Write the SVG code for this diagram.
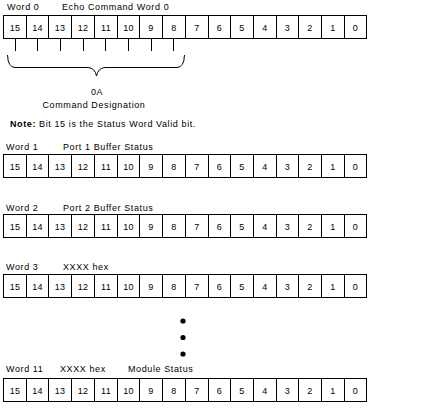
<svg xmlns="http://www.w3.org/2000/svg" width="437" height="410" viewBox="0 0 437 410">
<style>
text{font-family:"Liberation Sans",Arial,sans-serif;font-size:9px;fill:#000;letter-spacing:0.6px}
.n{text-anchor:middle;letter-spacing:0.3px}
.box{fill:#fff;stroke:#000;stroke-width:1}
.ln{stroke:#000;stroke-width:1;fill:none}
</style>
<defs>
<g id="reg">
<rect class="box" x="3.5" y="0.5" width="363" height="23"/>
<path class="ln" d="M26.5,0.5v23M48.5,0.5v23M71.5,0.5v23M94.5,0.5v23M117.5,0.5v23M139.5,0.5v23M162.5,0.5v23M185.5,0.5v23M208.5,0.5v23M230.5,0.5v23M253.5,0.5v23M276.5,0.5v23M298.5,0.5v23M321.5,0.5v23M344.5,0.5v23"/>
<text class="n" x="15" y="16">15</text>
<text class="n" x="37.5" y="16">14</text>
<text class="n" x="60" y="16">13</text>
<text class="n" x="83" y="16">12</text>
<text class="n" x="106" y="16">11</text>
<text class="n" x="128.5" y="16">10</text>
<text class="n" x="151" y="16">9</text>
<text class="n" x="174" y="16">8</text>
<text class="n" x="197" y="16">7</text>
<text class="n" x="219.5" y="16">6</text>
<text class="n" x="242" y="16">5</text>
<text class="n" x="265" y="16">4</text>
<text class="n" x="287.5" y="16">3</text>
<text class="n" x="310" y="16">2</text>
<text class="n" x="333" y="16">1</text>
<text class="n" x="355.5" y="16">0</text>
</g>
</defs>
<g id="word0">
<text x="7" y="10">Word 0</text>
<text x="62" y="10">Echo Command Word 0</text>
<use href="#reg" x="0" y="15"/>
</g>
<g id="connectors">
<path class="ln" d="M15.5,39v12M37.5,39v12M60.5,39v12M83.5,39v12M105.5,39v12M128.5,39v12M151.5,39v12M173.5,39v12"/>
<path class="ln" d="M7.5,55 Q8,67.5 15,67.5 L88,67.5 Q95,68 96.5,76 Q98,68 105,67.5 L177,67.5 Q184,67.5 184.5,55"/>
</g>
<g id="designation">
<text x="97" y="95" text-anchor="middle">0A</text>
<text x="94" y="108" text-anchor="middle">Command Designation</text>
</g>
<g id="note">
<text x="10" y="127"><tspan font-weight="bold">Note:</tspan> Bit 15 is the Status Word Valid bit.</text>
</g>
<g id="word1">
<text x="6" y="150">Word 1</text>
<text x="63" y="150">Port 1 Buffer Status</text>
<use href="#reg" x="0" y="154"/>
</g>
<g id="word2">
<text x="6" y="211">Word 2</text>
<text x="63" y="211">Port 2 Buffer Status</text>
<use href="#reg" x="0" y="214"/>
</g>
<g id="word3">
<text x="6" y="270">Word 3</text>
<text x="63" y="270">XXXX hex</text>
<use href="#reg" x="0" y="274"/>
</g>
<g id="ellipsis">
<circle cx="183" cy="321" r="2.6"/>
<circle cx="183" cy="337.5" r="2.6"/>
<circle cx="183" cy="354" r="2.6"/>
</g>
<g id="word11">
<text x="6" y="372">Word 11</text>
<text x="60" y="372">XXXX hex</text>
<text x="128" y="372">Module Status</text>
<use href="#reg" x="0" y="378"/>
</g>
</svg>
